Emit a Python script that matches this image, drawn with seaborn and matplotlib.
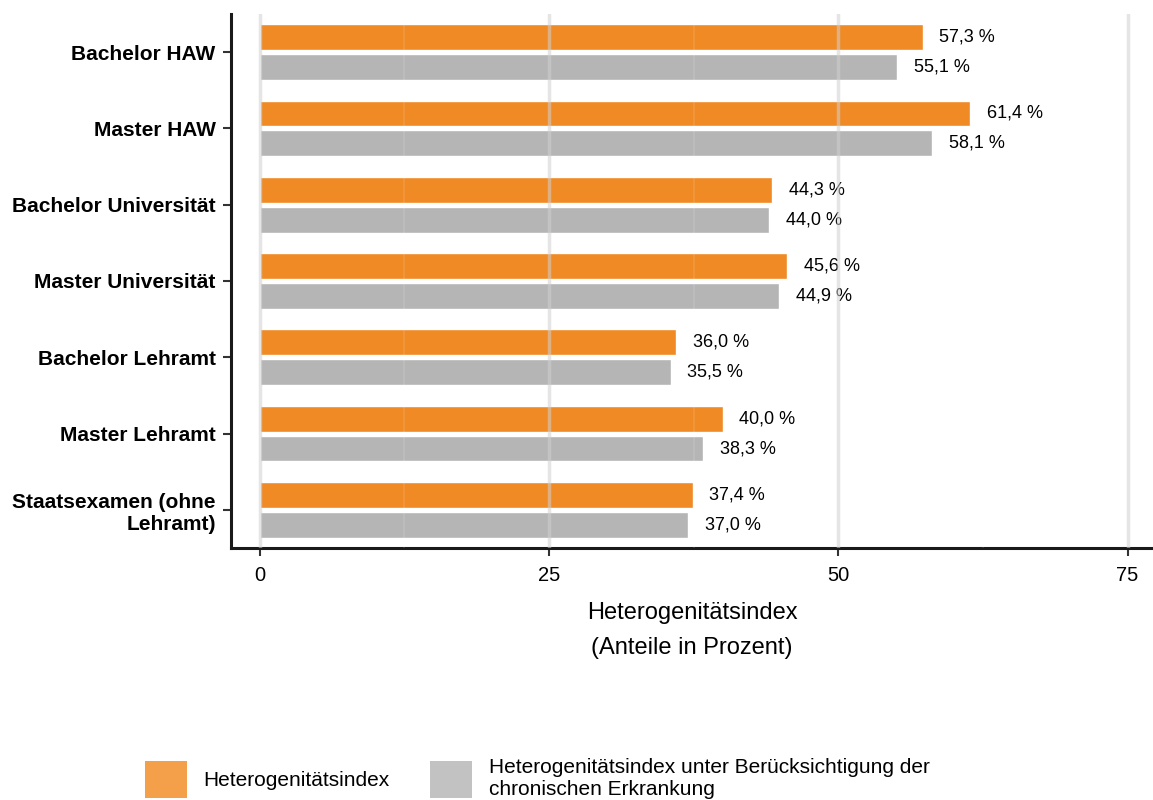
#!/usr/bin/env python3
"""Heterogenitaetsindex by degree type, horizontal grouped bars."""

import matplotlib

matplotlib.use("Agg")
import matplotlib.pyplot as plt
import pandas as pd
import seaborn as sns
from matplotlib.patches import Patch

categories = [
    "Bachelor HAW",
    "Master HAW",
    "Bachelor Universität",
    "Master Universität",
    "Bachelor Lehramt",
    "Master Lehramt",
    "Staatsexamen (ohne\nLehramt)",
]
series_names = [
    "Heterogenitätsindex",
    "Heterogenitätsindex unter Berücksichtigung der\nchronischen Erkrankung",
]
index_values = [57.3, 61.4, 44.3, 45.6, 36.0, 40.0, 37.4]
chronic_values = [55.1, 58.1, 44.0, 44.9, 35.5, 38.3, 37.0]
x_ticks = [0, 25, 50, 75]

bar_colors = ["#F08A24", "#B5B5B5"]
legend_colors = ["#F4A04A", "#C2C2C2"]

sns.set_theme(style="white")
plt.rcParams["font.family"] = ["Liberation Sans", "DejaVu Sans"]
plt.rcParams["text.color"] = "black"
plt.rcParams["axes.labelcolor"] = "black"
plt.rcParams["xtick.color"] = "black"
plt.rcParams["ytick.color"] = "black"

df = pd.DataFrame(
    {
        "category": categories * 2,
        "value": index_values + chronic_values,
        "series": [series_names[0]] * len(categories) + [series_names[1]] * len(categories),
    }
)

fig = plt.figure(figsize=(11.53, 8.0), dpi=100)
ax = fig.add_axes([0.2003, 0.315, 0.7997, 0.6675])

sns.barplot(
    data=df,
    x="value",
    y="category",
    hue="series",
    order=categories,
    hue_order=series_names,
    palette=bar_colors,
    orient="h",
    width=0.784,
    gap=0.133,
    saturation=1,
    legend=False,
    ax=ax,
    zorder=2,
)

for container in ax.containers:
    labels = [f"{bar.get_width():.1f} %".replace(".", ",") for bar in container]
    ax.bar_label(container, labels=labels, padding=12, fontsize=13, color="black")

ax.set_xlim(-2.5, 77.2)
ax.set_ylim(len(categories) - 0.5, -0.5)
ax.set_xticks(x_ticks, labels=[str(t) for t in x_ticks])
ax.tick_params(axis="x", bottom=True, labelsize=14.5, length=6, width=1.5,
               color="#333333", labelcolor="black", pad=7)
ax.tick_params(axis="y", left=True, labelsize=15, length=6, width=1.5,
               color="#333333", labelcolor="black", pad=5)
for lab in ax.get_yticklabels():
    lab.set_fontweight("bold")
    lab.set_multialignment("right")

# major grid lines plus faint minor lines that show through the bars
for t in x_ticks:
    ax.axvline(t, color="#D0D0D0", alpha=0.55, linewidth=2.5, zorder=3)
for t in [12.5, 37.5, 62.5]:
    ax.axvline(t, color="white", alpha=0.1, linewidth=1.5, zorder=3)

ax.set_xlabel("Heterogenitätsindex\n(Anteile in Prozent)", fontsize=17, labelpad=12, linespacing=1.8)
ax.set_ylabel("")

for side in ["top", "right"]:
    ax.spines[side].set_visible(False)
for side in ["left", "bottom"]:
    ax.spines[side].set_color("#1a1a1a")
    ax.spines[side].set_linewidth(2.2)

handles = [Patch(facecolor=c, edgecolor="none") for c in legend_colors]
fig.legend(
    handles,
    series_names,
    loc="upper left",
    bbox_to_anchor=(0.126, 0.0525),
    ncol=2,
    frameon=False,
    fontsize=15,
    handlelength=2.0,
    handleheight=2.3,
    handletextpad=0.8,
    columnspacing=1.95,
    borderpad=0,
    borderaxespad=0,
)

fig.savefig("out.png", dpi=100)
